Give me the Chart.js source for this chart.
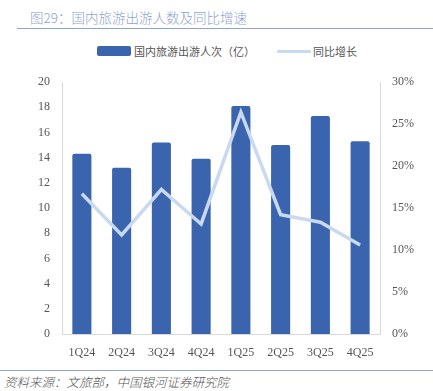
<!DOCTYPE html>
<html><head><meta charset="utf-8">
<script src="https://cdn.jsdelivr.net/npm/chart.js@4/dist/chart.umd.min.js"></script>
<style>
html,body{margin:0;padding:0;background:#fff;width:433px;height:391px;overflow:hidden;position:relative;font-family:"Noto Sans CJK SC",sans-serif;}
#title{position:absolute;left:30px;top:7px;font-size:13.5px;font-weight:300;color:#8FA3CC;line-height:20px;white-space:nowrap;}
#tline{position:absolute;left:17px;top:28px;width:416px;height:0;border-top:1.5px solid #8EA5D0;}
.lg{position:absolute;top:43px;line-height:16px;white-space:nowrap;font-size:11px;color:#555;}
#box1{position:absolute;left:97px;top:46px;width:34px;height:10px;background:#3A64AE;border-radius:2px;}
#box2{position:absolute;left:277px;top:49.5px;width:34px;height:3px;background:#C9D9EF;border-radius:1px;}
#bline{position:absolute;left:0;top:370px;width:433px;border-top:1.5px solid #8EA5D0;}
#src{position:absolute;left:4px;top:373px;font-size:12.5px;font-style:italic;font-weight:300;color:#555;white-space:nowrap;line-height:18px;}
#c{position:absolute;left:0;top:0;}
</style></head>
<body>
<div id="title">图29：国内旅游出游人数及同比增速</div>
<div id="tline"></div>
<div id="box1"></div><div class="lg" style="left:134px">国内旅游出游人次（亿）</div>
<div id="box2"></div><div class="lg" style="left:313px">同比增长</div>
<canvas id="c" width="433" height="370"></canvas>
<div id="bline"></div>
<div id="src">资料来源：文旅部，中国银河证券研究院</div>
<script>
const categories = ["1Q24","2Q24","3Q24","4Q24","1Q25","2Q25","3Q25","4Q25"];
const trips = [14.3, 13.2, 15.2, 13.9, 18.1, 15.0, 17.3, 15.3];
const yoyGrowth = [16.7, 11.8, 17.2, 13.1, 26.4, 14.2, 13.3, 10.6];
const leftTicks = [0,2,4,6,8,10,12,14,16,18,20];
const rightTicks = [0,5,10,15,20,25,30];

const tickFont = {family: '"Liberation Serif", serif', size: 12};
new Chart(document.getElementById('c'), {
  data: {
    labels: categories,
    datasets: [
      {type:'line', label:'同比增长', data: yoyGrowth, yAxisID:'y1', borderColor:'#C9D9EF', borderWidth:3.5, pointRadius:0, tension:0, order:0},
      {type:'bar', label:'国内旅游出游人次（亿）', data: trips, yAxisID:'y', backgroundColor:'#3A64AE', borderRadius:2, borderSkipped:'bottom', barPercentage:0.48, categoryPercentage:1, order:1}
    ]
  },
  options: {
    responsive:false, animation:false,
    layout:{padding:{top:82,left:0,right:0,bottom:0}},
    plugins:{legend:{display:false}, tooltip:{enabled:false}},
    scales:{
      x:{grid:{display:false, drawTicks:false}, border:{display:true,color:'#D9D9D9',width:1},
         ticks:{font:tickFont,color:'#555',padding:12},
         afterFit(s){s.height=36;}},
      y:{position:'left',min:0,max:20,grid:{display:false,drawTicks:false},border:{display:true,color:'#D9D9D9'},
         afterBuildTicks(s){s.ticks=leftTicks.map(v=>({value:v}));},
         ticks:{font:tickFont,color:'#555',padding:12},
         afterFit(s){s.width=62;}},
      y1:{position:'right',min:0,max:30,grid:{display:false,drawTicks:false},border:{display:true,color:'#D9D9D9'},
         afterBuildTicks(s){s.ticks=rightTicks.map(v=>({value:v}));},
         ticks:{font:tickFont,color:'#555',padding:12,callback:v=>v+'%'},
         afterFit(s){s.width=53;}}
    }
  }
});
</script>
</body></html>
